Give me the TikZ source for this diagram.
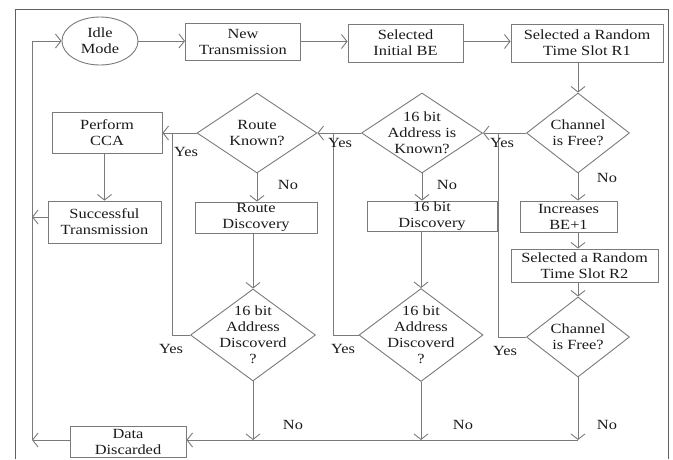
\documentclass[tikz,border=0pt]{standalone}
\usepackage{fontspec}
\setmainfont{Liberation Serif}[FakeStretch=1.17]
\usetikzlibrary{shapes.geometric,arrows.meta}
\definecolor{ln}{HTML}{7A7A7A}
\definecolor{fr}{HTML}{606060}
\definecolor{tx}{HTML}{1A1A1A}
\tikzset{
  >={Straight Barb[length=5.5pt,width=14pt]},
  box/.style={draw=ln, line width=0.9pt, rectangle, align=center, inner sep=0pt,
    text=tx, font=\fontsize{14}{16}\selectfont},
  dec/.style={draw=ln, line width=0.9pt, diamond, inner sep=0pt},
  dtext/.style={align=center, text=tx, inner sep=0pt, font=\fontsize{14}{16}\selectfont},
  lab/.style={text=tx, inner sep=0pt, font=\fontsize{14}{16}\selectfont},
  conn/.style={draw=ln, line width=0.9pt},
}
\begin{document}
\begin{tikzpicture}[x=1pt,y=-1pt]
\useasboundingbox (0,0) rectangle (673,459);
% frame
\draw[fr, line width=1pt] (15,459) -- (15,9) -- (668,9) -- (668,459);

% top row
\node[draw=ln, line width=0.9pt, ellipse, minimum width=76pt, minimum height=48pt, inner sep=0pt,
  align=center, text=tx, font=\fontsize{14}{16}\selectfont] (idle) at (100,41) {Idle\\Mode};
\node[box, minimum width=115pt, minimum height=37pt] (newt) at (243,41.5) {New\\Transmission};
\node[box, minimum width=115pt, minimum height=38pt] (selbe) at (405.5,43) {Selected\\Initial BE};
\node[box, minimum width=152pt, minimum height=38pt] (r1) at (587,43) {Selected a Random\\Time Slot R1};

% decisions row 1
\node[dec, minimum width=120pt, minimum height=80pt] (rk) at (257,133) {};
\node[dtext] (rkt) at (rk.center) {Route\\Known?};
\node[dec, minimum width=121pt, minimum height=80pt] (ak) at (422,133) {};
\node[dtext] (akt) at (ak.center) {16 bit\\Address is\\Known?};
\node[dec, minimum width=103pt, minimum height=80pt] (ch1) at (578,133) {};
\node[dtext] (ch1t) at (ch1.center) {Channel\\is Free?};

% boxes
\node[box, minimum width=110pt, minimum height=41pt] (cca) at (107,132.5) {Perform\\CCA};
\node[box, minimum width=113pt, minimum height=42pt] (succ) at (104.5,222) {Successful\\Transmission};
\node[box, minimum width=122pt, minimum height=31pt] (rdisc) at (256,217.5) {Route\\Discovery};
\node[box, minimum width=130pt, minimum height=30pt] (bdisc) at (432,216) {16 bit\\Discovery};
\node[box, minimum width=97pt, minimum height=31pt] (inc) at (568.5,216.5) {Increases\\BE+1};
\node[box, minimum width=147pt, minimum height=33pt] (r2) at (584.5,265.5) {Selected a Random\\Time Slot R2};
\node[box, minimum width=116pt, minimum height=31pt] (dd) at (128,441.5) {Data\\Discarded};

% decisions row 2
\node[dec, minimum width=125pt, minimum height=92pt] (rd) at (253,335) {};
\node[dtext] (rdt) at (rd.center) {16 bit\\Address\\Discoverd\\?};
\node[dec, minimum width=124pt, minimum height=93pt] (ad) at (421,335) {};
\node[dtext] (adt) at (ad.center) {16 bit\\Address\\Discoverd\\?};
\node[dec, minimum width=103pt, minimum height=80pt] (ch2) at (578,337) {};
\node[dtext] (ch2t) at (ch2.center) {Channel\\is Free?};

% coordinates
\coordinate (bl) at (32,440);
\coordinate (rdb) at (253,440);
\coordinate (adb) at (421,440);
\coordinate (chb) at (578,440);
\coordinate (vr) at (172,133);
\coordinate (va) at (333,133);
\coordinate (vc) at (498,133);

% top flow
\draw[conn,->] (idle.east) -- (newt.west |- idle.east);
\draw[conn,->] (newt.east) -- (newt.east -| selbe.west);
\draw[conn,->] (selbe.east |- newt.east) -- (newt.east -| r1.west);
\draw[conn,->] (r1.south -| ch1.north) -- (ch1.north);

% yes branches
\draw[conn,->] (ch1.west) -- (ak.east);
\draw[conn,->] (ak.west) -- (rk.east);
\draw[conn,->] (rk.west) -- (cca.east |- rk.west);
\draw[conn] (ch2.west) -- (vc |- ch2.west) -- (vc);
\draw[conn] (ad.west) -- (va |- ad.west) -- (va);
\draw[conn] (rd.west) -- (vr |- rd.west) -- (vr);

% no branches
\draw[conn,->] (ch1.south) -- (ch1.south |- inc.north);
\draw[conn,->] (inc.south -| ch1.south) -- (ch1.south |- r2.north);
\draw[conn,->] (r2.south -| ch2.north) -- (ch2.north);
\draw[conn,->] (ch2.south) -- (chb);
\draw[conn,->] (ak.south) -- (ak.south |- bdisc.north);
\draw[conn,->] (bdisc.south -| ad.north) -- (ad.north);
\draw[conn,->] (ad.south) -- (adb);
\draw[conn,->] (rk.south) -- (rk.south |- rdisc.north);
\draw[conn,->] (rdisc.south -| rd.north) -- (rd.north);
\draw[conn,->] (rd.south) -- (rdb);
\draw[conn,->] (chb) -- (dd.east |- chb);

% left side
\draw[conn,->] (cca.south -| succ.north) -- (succ.north);
\draw[conn,->] (succ.west |- 0,217) -- (32,217);
\draw[conn,->] (dd.west |- bl) -- (bl);
\draw[conn,->] (bl) -- (32,41) -- (idle.west);

% labels
\node[lab] (y1) at (186,152) {Yes};
\node[lab] (y2) at (340,143) {Yes};
\node[lab] (y3) at (502,143) {Yes};
\node[lab] (y4) at (171,349) {Yes};
\node[lab] (y5) at (343,349) {Yes};
\node[lab] (y6) at (505,351) {Yes};
\node[lab] (n1) at (288,185) {No};
\node[lab] (n2) at (447,185) {No};
\node[lab] (n3) at (607,178) {No};
\node[lab] (n4) at (293,425) {No};
\node[lab] (n5) at (463,425) {No};
\node[lab] (n6) at (607,425) {No};
\end{tikzpicture}
\end{document}
